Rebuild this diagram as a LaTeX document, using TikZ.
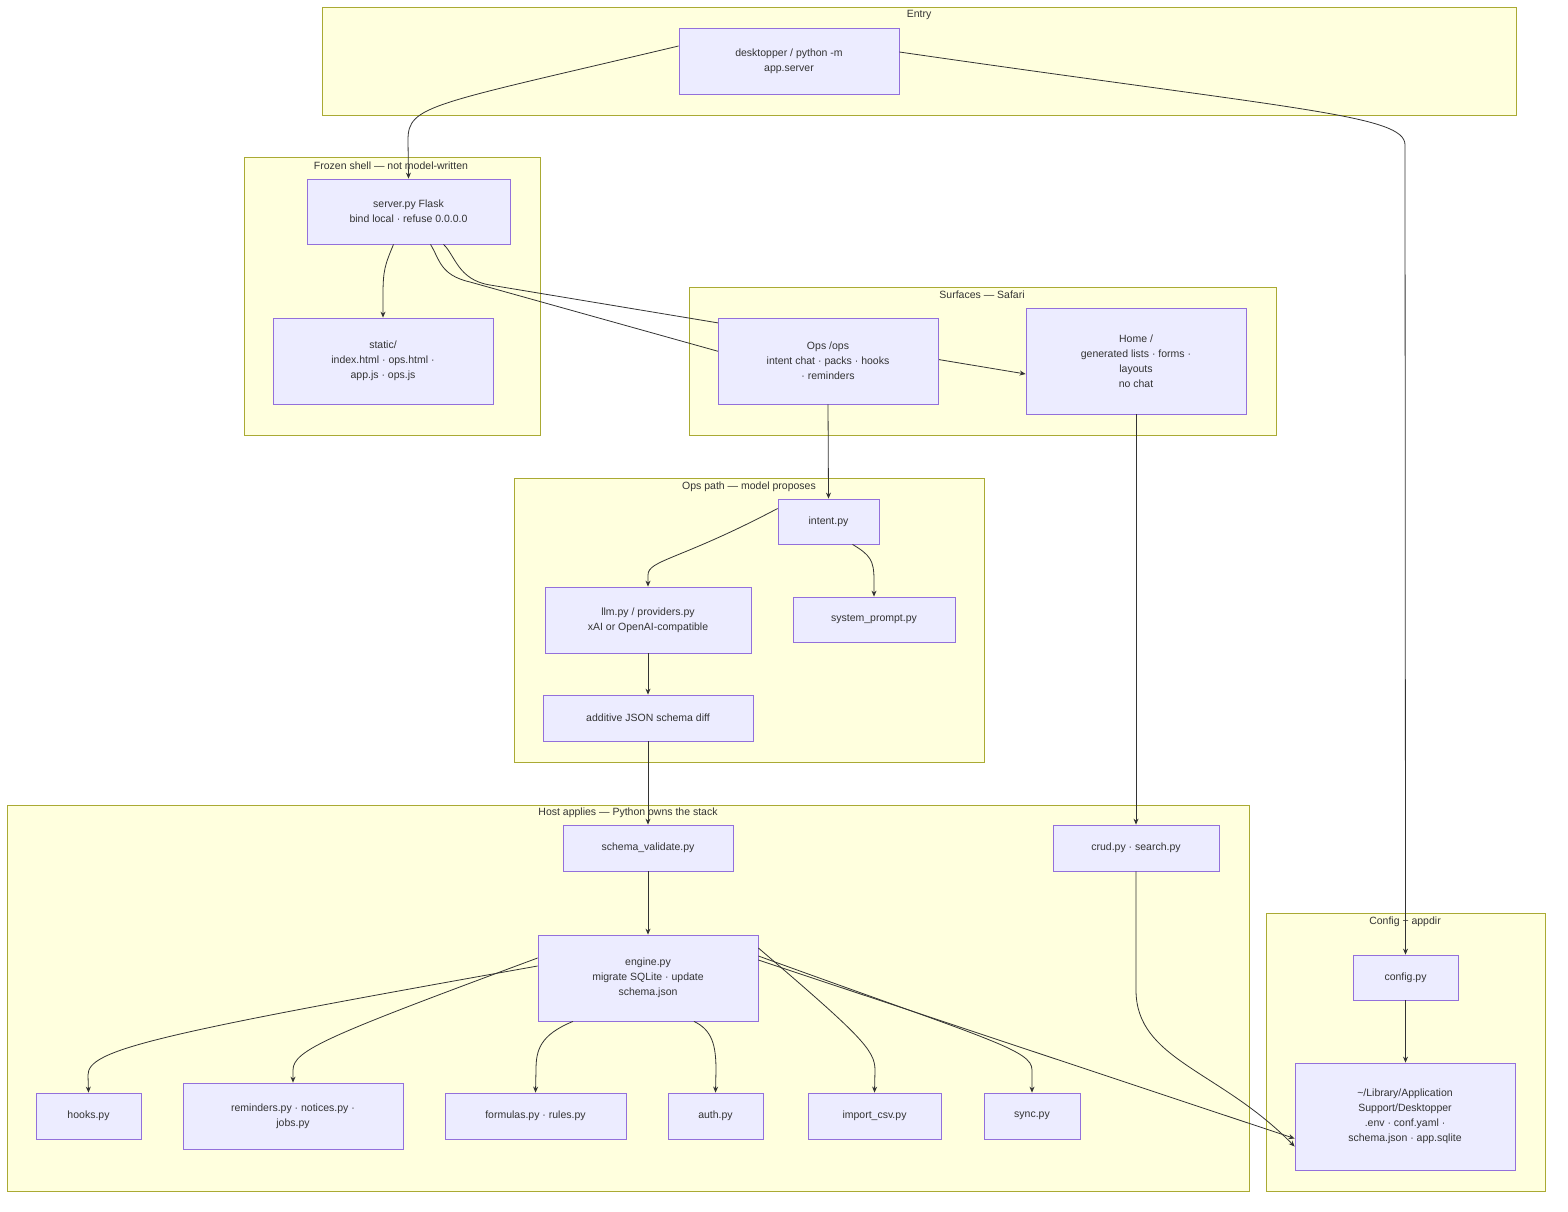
\documentclass[tikz,border=0pt]{standalone}
\usepackage{fontspec}
\setmainfont{Liberation Sans}
\usetikzlibrary{arrows.meta}
\definecolor{clf}{HTML}{FFFFDE}\definecolor{cls}{HTML}{AAAA33}
\definecolor{ndf}{HTML}{ECECFF}\definecolor{nds}{HTML}{9370DB}
\definecolor{tx}{HTML}{333333}
\begin{document}
\begin{tikzpicture}[x=1pt,y=-1pt,
 cl/.style={draw=cls,fill=clf,line width=0.8pt},
 cll/.style={text=tx,font=\fontsize{10.5}{12}\selectfont},
 nd/.style={draw=nds,fill=ndf,line width=0.8pt,text=tx,align=center,inner sep=0pt,font=\fontsize{10.5}{15}\selectfont},
 ar/.style={draw=tx,line width=0.8pt,-{Stealth[length=6pt,width=5pt]}}]
\useasboundingbox (0,0) rectangle (1568,1212);
% clusters
\draw[cl] (322,7) rectangle (1516,115); \node[cll] (lEntry) at (919,15) {Entry};
\draw[cl] (244,157) rectangle (540,435); \node[cll] (lFrozen) at (391,166) {Frozen shell — not model-written};
\draw[cl] (689,287) rectangle (1276,435); \node[cll] (lSurf) at (982,295) {Surfaces — Safari};
\draw[cl] (514,478) rectangle (984,762); \node[cll] (lOps) at (749,487) {Ops path — model proposes};
\draw[cl] (7,805) rectangle (1249,1191); \node[cll] (lHost) at (628,813) {Host applies — Python owns the stack};
\draw[cl] (1266,913) rectangle (1545,1191); \node[cll] (lConf) at (1405,922) {Config + appdir};
% node coordinates (placed first, drawn later)
\path
 (789,61) coordinate (pEntry) (408.5,211.5) coordinate (pServer) (383,361) coordinate (pStatic)
 (828,361) coordinate (pOps) (1136,361) coordinate (pHome);
% nodes
\node[nd,minimum width=220,minimum height=66] (entry) at (789,61) {desktopper / python -m\\app.server};
\node[nd,minimum width=203,minimum height=65] (server) at (408.5,211.5) {server.py Flask\\bind local · refuse 0.0.0.0};
\node[nd,minimum width=220,minimum height=86] (static) at (383,361) {static/\\index.html · ops.html ·\\app.js · ops.js};
\node[nd,minimum width=220,minimum height=106] (home) at (1136,361) {Home /\\generated lists · forms ·\\layouts\\no chat};
\node[nd,minimum width=101,minimum height=45] (intent) at (828.5,521.5) {intent.py};
\node[nd,minimum width=206,minimum height=66] (llm) at (648,620) {llm.py / providers.py\\xAI or OpenAI-compatible};
\node[nd,minimum width=162,minimum height=45] (sysp) at (874,619.5) {system\_prompt.py};
\node[nd,minimum width=210,minimum height=46] (diff) at (648,718) {additive JSON schema diff};
\node[nd,minimum width=170,minimum height=46] (sv) at (648,848) {schema\_validate.py};
\node[nd,minimum width=166,minimum height=46] (crud) at (1136,848) {crud.py · search.py};
\node[nd,minimum width=220,minimum height=86] (engine) at (648,978) {engine.py\\migrate SQLite · update\\schema.json};
\node[nd,minimum width=105,minimum height=46] (hooks) at (88.5,1116) {hooks.py};
\node[nd,minimum width=220,minimum height=66] (rem) at (293,1116) {reminders.py · notices.py ·\\jobs.py};
\node[nd,minimum width=181,minimum height=46] (form) at (535.5,1116) {formulas.py · rules.py};
\node[nd,minimum width=95,minimum height=46] (auth) at (715.5,1116) {auth.py};
\node[nd,minimum width=133,minimum height=46] (imp) at (874.5,1116) {import\_csv.py};
\node[nd,minimum width=96,minimum height=46] (sync) at (1032,1116) {sync.py};
\node[nd,minimum width=105,minimum height=45] (config) at (1405.5,977.5) {config.py};
\node[nd,minimum width=220,minimum height=107] (lib) at (1405,1116.5) {\textasciitilde/Library/Application\\Support/Desktopper\\.env · conf.yaml ·\\schema.json · app.sqlite};
% edges
\draw[ar] ([yshift=15]entry.west) .. controls (430,105) and (408,105) .. (408,140) -- (server.north);
\draw[ar] ([yshift=9]entry.east) .. controls (1300,110) and (1405,115) .. (1405,145) -- (config.north);
\draw[ar] ([xshift=-15]server.south) .. controls (385,265) and (383,270) .. (383,295) -- (static.north);
\draw[ar] ([xshift=22]server.south) .. controls (440,260) and (440,275) .. (470,282) -- ([yshift=-21]pOps.west);
\draw[ar] ([xshift=35]server.south) .. controls (455,255) and (458,280) .. (490,285) -- ([yshift=-13]home.west);
\node[nd,minimum width=220,minimum height=86] (ops) at (828,361) {Ops /ops\\intent chat · packs · hooks\\· reminders};
\draw[ar] (ops.south) -- (intent.north);
\draw[ar] (home.south) -- (crud.north);
\draw[ar] ([yshift=13]intent.west) .. controls (680,560) and (648,560) .. (648,575) -- (llm.north);
\draw[ar] ([xshift=24]intent.south) .. controls (870,555) and (874,560) .. (874,580) -- (sysp.north);
\draw[ar] (llm.south) -- (diff.north);
\draw[ar] (diff.south) -- (sv.north);
\draw[ar] (sv.south) -- (engine.north);
\draw[ar] (crud.south) -- (1136,990) .. controls (1136,1060) and (1220,1070) .. ([yshift=-30]lib.west);
\draw[ar] (config.south) -- ([xshift=0.5]lib.north);
\draw[ar] ([yshift=12]engine.west) .. controls (150,1035) and (88,1050) .. (88,1075) -- (hooks.north);
\draw[ar] ([yshift=20]engine.west) .. controls (330,1035) and (293,1050) .. (293,1070) -- (rem.north);
\draw[ar] ([xshift=-75]engine.south) .. controls (540,1035) and (536,1050) .. (536,1070) -- (form.north);
\draw[ar] ([xshift=46]engine.south) .. controls (712,1030) and (716,1045) .. (716,1070) -- (auth.north);
\draw[ar] ([yshift=30]engine.east) .. controls (860,1035) and (875,1050) .. (875,1070) -- (imp.north);
\draw[ar] ([yshift=22]engine.east) .. controls (990,1040) and (1032,1050) .. (1032,1070) -- (sync.north);
\draw[ar] ([yshift=18]engine.east) -- ([yshift=-22]lib.west);
\end{tikzpicture}
\end{document}
